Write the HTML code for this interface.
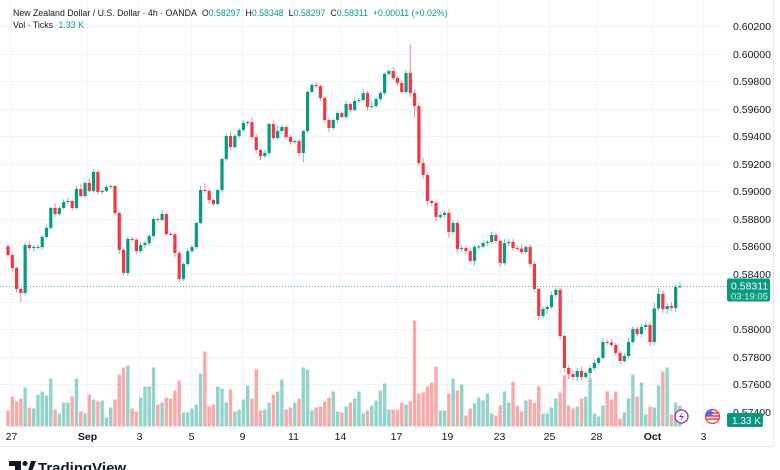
<!DOCTYPE html>
<html><head><meta charset="utf-8"><style>
html,body{margin:0;padding:0;background:#fff;}
body{width:780px;height:470px;overflow:hidden;position:relative;font-family:"Liberation Sans",sans-serif;}
svg{position:absolute;left:0;top:0;}
.f{margin-left:5px;}
.g{color:#089981;}
</style></head><body>
<svg id="chart" width="780" height="470" viewBox="0 0 780 470">
<g id="grid"></g>
<g id="vol"></g>
<g id="candles"></g>
<g id="axes"></g>
</svg>
<script>
const closes=[0.58538,0.58444,0.58291,0.58262,0.58611,0.58589,0.58596,0.58596,0.58669,0.58735,
0.58880,0.58836,0.58880,0.58924,0.58931,0.58880,0.59018,0.58967,0.59062,0.59004,
0.59142,0.58996,0.59004,0.59033,0.59040,0.58844,0.58575,0.58407,0.58655,0.58650,
0.58567,0.58611,0.58625,0.58676,0.58800,0.58793,0.58836,0.58691,0.58688,0.58553,
0.58364,0.58473,0.58567,0.58596,0.58771,0.59011,0.59004,0.58938,0.58909,0.59011,
0.59236,0.59404,0.59324,0.59404,0.59447,0.59498,0.59505,0.59396,0.59302,0.59258,
0.59280,0.59491,0.59389,0.59440,0.59469,0.59396,0.59360,0.59367,0.59280,0.59440,
0.59724,0.59775,0.59767,0.59680,0.59520,0.59462,0.59520,0.59571,0.59542,0.59636,
0.59593,0.59658,0.59665,0.59716,0.59615,0.59622,0.59673,0.59716,0.59855,0.59876,
0.59825,0.59789,0.59724,0.59862,0.59716,0.59622,0.59207,0.59120,0.58931,0.58916,
0.58815,0.58829,0.58844,0.58705,0.58771,0.58582,0.58589,0.58567,0.58495,0.58596,
0.58600,0.58625,0.58633,0.58684,0.58640,0.58480,0.58625,0.58633,0.58589,0.58585,
0.58560,0.58596,0.58473,0.58291,0.58095,0.58145,0.58160,0.58247,0.58284,0.57949,
0.57716,0.57673,0.57651,0.57695,0.57651,0.57680,0.57716,0.57753,0.57789,0.57905,
0.57902,0.57884,0.57825,0.57767,0.57804,0.57905,0.58000,0.57964,0.58015,0.58029,
0.57905,0.58150,0.58255,0.58145,0.58167,0.58153,0.58305,0.58311];
const firstOpen=0.58600;
const wickUp=[20,15,10,10,20,25,15,20,15,20,10,35,15,20,25,10,20,40,15,35,
20,10,10,15,10,10,15,10,20,15,10,20,15,10,15,10,30,10,15,10,
15,10,20,15,10,30,50,15,10,10,10,15,30,15,15,20,10,35,20,10,
20,10,25,40,15,10,20,10,15,10,10,15,20,10,10,20,15,15,10,20,
10,25,15,30,15,35,10,15,10,15,30,15,20,20,210,30,25,40,15,10,
15,20,15,25,20,15,20,15,25,15,15,20,15,20,15,10,30,20,20,15,
35,15,20,15,10,20,15,25,15,15,10,20,25,20,30,15,20,25,15,30,
20,25,15,20,20,30,20,15,25,20,20,40,45,25,20,30,20,35];
const wickDn=[15,20,25,70,20,15,25,15,20,15,10,20,15,10,15,20,10,10,15,10,
15,20,15,10,15,20,30,15,20,10,20,15,25,20,10,15,10,15,10,30,
20,15,10,15,20,10,15,30,15,10,20,15,20,15,15,10,20,20,25,30,
15,25,15,10,20,15,20,15,25,70,15,10,15,20,20,35,15,20,10,15,
20,10,15,10,25,10,15,20,15,10,15,20,10,15,30,85,20,25,35,20,
30,15,20,40,15,30,20,25,15,35,20,10,20,15,20,30,15,20,25,15,
20,10,25,20,30,20,35,15,20,25,30,40,20,35,25,15,40,20,15,10,
20,15,20,25,15,20,20,15,25,20,30,25,15,25,35,20,30,10];
const volumes=[16,30,25,28,39,19,18,32,35,31,48,17,13,24,24,30,48,15,13,32,
27,25,26,9,19,27,52,59,61,18,15,29,40,40,59,22,24,29,28,36,
46,14,14,18,22,53,75,20,22,40,38,24,37,15,17,27,41,28,57,16,
17,24,32,35,47,17,19,24,28,59,57,16,19,20,25,29,35,15,14,20,
24,28,35,13,16,21,26,36,43,17,17,17,24,22,25,106,33,34,40,44,
60,16,16,33,48,36,42,11,18,23,29,26,33,13,11,21,35,24,45,21,
15,26,27,24,40,13,13,19,28,34,51,21,18,20,28,30,48,13,10,21,
35,27,35,8,14,28,52,30,44,12,20,19,41,55,59,12,24,21];
const priceTicks=["0.60200","0.60000","0.59800","0.59600","0.59400","0.59200","0.59000","0.58800","0.58600","0.58400","0.58200","0.58000","0.57800","0.57600","0.57400"];
const dateLabels=["27","Sep","3","5","9","11","14","17","19","23","25","28","Oct","3"];
const dateIndex=[0.7,18.5,30.6,42.8,54.7,66.6,77.6,90.7,102.6,114.7,126.4,137.4,150.5,162.4];

const NS="http://www.w3.org/2000/svg";
const X0=8, DX=4.28;
const xScale=i=>X0+i*DX;
const yScale=p=>329-(p-0.58)/0.002*27.5;
const VB=426.5;
const vScale=v=>v*1.0;
const UP="#089981", DN="#F23645";
function mk(tag,attrs,parent){const e=document.createElementNS(NS,tag);for(const k in attrs)e.setAttribute(k,attrs[k]);parent.appendChild(e);return e;}
const grid=document.getElementById('grid'),vol=document.getElementById('vol'),cg=document.getElementById('candles'),ax=document.getElementById('axes');

priceTicks.forEach(t=>{const y=Math.round(yScale(parseFloat(t)))+0.5;
 const l=mk('line',{x1:0,x2:722,y1:y,y2:y,stroke:'#f2f3f5','stroke-width':1},grid);
 
 
 if(t!=="0.58200"){const tx=mk('text',{x:733,y:y+3.5,'font-size':'10.5',fill:'#131722'},ax);tx.textContent=t;
 
 }
});
dateIndex.forEach((di,k)=>{const x=Math.round(xScale(di))+0.5;
 const l=mk('line',{x1:x,x2:x,y1:0,y2:428,stroke:'#f2f3f5','stroke-width':1},grid);
 
 
 const lab=dateLabels[k];const bold=(lab==="Sep"||lab==="Oct");
 const tx=mk('text',{x:x,y:440,'font-size':'10.5',fill:'#131722','text-anchor':'middle','font-weight':bold?'bold':'normal'},ax);tx.textContent=lab;
 
 
});
const fr=mk('path',{d:'M0 446.5 H773.5 V0',fill:'none',stroke:'#e6e8ec','stroke-width':1},ax);



closes.forEach((c,i)=>{
 const o=i===0?firstOpen:closes[i-1];
 const up=c>=o;
 const x=xScale(i);
 const h=vScale(volumes[i]);
 const vb=mk('rect',{x:x-1.7,y:VB-h,width:3.4,height:h,fill:up?'#93d3c9':'#f8a9a9'},vol);
 
 
 const hi=Math.max(o,c)+wickUp[i]/100000, lo=Math.min(o,c)-wickDn[i]/100000;
 const col=up?UP:DN;
 const w=mk('line',{x1:x,x2:x,y1:yScale(hi),y2:yScale(lo),stroke:up?'#6cc3b3':'#f58a92','stroke-width':1},cg);
 
 
 const yt=yScale(Math.max(o,c)),yb=yScale(Math.min(o,c));
 const b=mk('rect',{x:x-1.6,y:yt,width:3.2,height:Math.max(1,yb-yt),fill:col},cg);
 
 
});
const last=closes[closes.length-1];const ly=Math.round(yScale(last))+0.5;
const pl=mk('line',{x1:0,x2:727,y1:ly,y2:ly,stroke:'#089981','stroke-width':1,'stroke-dasharray':'1 2',opacity:0.7},ax);


const tag=mk('rect',{x:727,y:ly-8,width:43,height:23,rx:2,fill:'#089981'},ax);


const t1=mk('text',{x:731,y:ly+3,'font-size':'10.5',fill:'#fff'},ax);t1.textContent=last.toFixed(5);


const t2=mk('text',{x:731,y:ly+13,'font-size':'9.5',fill:'#d6f0ea'},ax);t2.textContent="03:19:05";


const vt=mk('rect',{x:727,y:413,width:36,height:14,rx:2,fill:'#089981'},ax);


const vtt=mk('text',{x:732,y:424,'font-size':'10','fill':'#fff'},ax);vtt.textContent="1.33 K";


</script>
<svg width="780" height="470" style="pointer-events:none">
<g><circle cx="681.5" cy="416.5" r="6.5" fill="#fff" stroke="#9c27b0" stroke-width="1.3"/><path d="M683 411.5 L679 417 H682 L680 421.5 L684 416 H681 Z" fill="#9c27b0"/></g>
<g><circle cx="712.5" cy="416.5" r="7" fill="#fff" stroke="#f23645" stroke-width="1.2"/><path d="M706 413 H719 M706 416 H719 M706 419 H719" stroke="#f23645" stroke-width="1.4"/><path d="M707 410.5 H712.5 V416 H706 Z" fill="#2962ff" opacity="0.8"/></g>
<g><path d="M9 461 H21 V474 H15 V466 H9 Z" fill="#131722"/><circle cx="25" cy="463.5" r="2.5" fill="#131722"/><path d="M27 474 L31 461 H36 L31 474 Z" fill="#131722"/>
<text x="38" y="473" font-size="15" font-weight="bold" fill="#131722" font-family="Liberation Sans, sans-serif">TradingView</text></g>
</svg>
<div style="position:absolute;left:13px;top:7px;font-size:8.8px;color:#131722;white-space:nowrap;line-height:12px">
<div>New Zealand Dollar / U.S. Dollar · 4h · OANDA<span class="f">O<span class="g">0.58297</span></span><span class="f">H<span class="g">0.58348</span></span><span class="f">L<span class="g">0.58297</span></span><span class="f">C<span class="g">0.58311</span></span><span class="f g">+0.00011 (+0.02%)</span></div>
<div>Vol · Ticks <span class="g" style="margin-left:3px">1.33 K</span></div>
</div>
</body></html>
